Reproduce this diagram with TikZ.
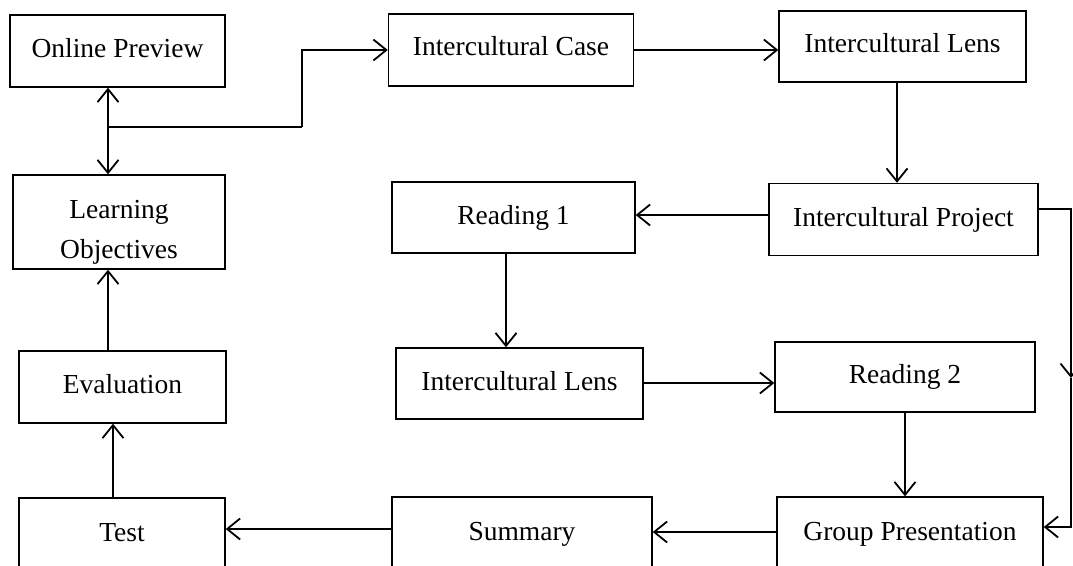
\documentclass[tikz,border=0pt]{standalone}
\usepackage{fontspec}
\setmainfont{Liberation Serif}
\usetikzlibrary{arrows.meta}
\begin{document}
\begin{tikzpicture}[x=1pt,y=-1pt,
  >={Straight Barb[length=13pt,width=21pt]},
  box/.style={draw, line width=1.4pt, inner sep=0pt,
    font=\fontsize{27.5}{33}\selectfont, text height=19pt, text depth=6pt},
  lbl/.style={inner sep=0pt, font=\fontsize{27.5}{33}\selectfont, anchor=base},
  conn/.style={line width=1.8pt, ->},
  plain/.style={line width=1.8pt}]
\useasboundingbox (0,0) rectangle (1073,565);
\clip (0,0) rectangle (1073,565);
% boxes
\node[box, minimum width=215pt, minimum height=72pt] (op) at (117.5,51) {Online Preview};
\node[box, minimum width=212pt, minimum height=94pt] (lo) at (119,222) {};
\node[lbl] (lo1) at (119,218) {Learning};
\node[lbl] (lo2) at (119,258) {Objectives};
\node[box, minimum width=207pt, minimum height=72pt] (ev) at (122.5,387) {Evaluation};
\node[box, minimum width=206pt, minimum height=73pt] (test) at (122,534.5) {Test};
\node[box, minimum width=245pt, minimum height=72pt] (ic) at (511,50) {\raisebox{1.5pt}{Intercultural Case}};
\node[box, minimum width=247pt, minimum height=71pt] (il1) at (902.5,46.5) {\raisebox{1pt}{Intercultural Lens}};
\node[box, minimum width=269pt, minimum height=72pt] (ip) at (903.5,219.5) {Intercultural Project};
\node[box, minimum width=243pt, minimum height=71pt] (r1) at (513.5,217.5) {Reading 1};
\node[box, minimum width=247pt, minimum height=71pt] (il2) at (519.5,383.5) {Intercultural Lens};
\node[box, minimum width=260pt, minimum height=70pt] (r2) at (905,377) {Reading 2};
\node[box, minimum width=266pt, minimum height=73pt] (gp) at (910,533.5) {Group Presentation};
\node[box, minimum width=260pt, minimum height=73pt] (sum) at (522,533.5) {Summary};
% helper coordinates
\coordinate (j) at (108,127);
\coordinate (k) at (302,127);
\coordinate (xa) at (897,0);
\coordinate (yb) at (0,215);
\coordinate (xc) at (506,0);
\coordinate (xd) at (905,0);
\coordinate (ra) at (1071,209);
\coordinate (rm) at (1071,378);
\coordinate (rb) at (1071,527);
\coordinate (ye) at (0,532);
\coordinate (yf) at (0,529);
\coordinate (yg) at (0,383);
\coordinate (xg) at (113,0);
\coordinate (xh) at (108,0);
% connectors
\draw[plain, <->] (op.south -| j) -- (lo.north -| j);
\draw[plain] (j) -- (k);
\draw[conn] (k) |- (ic.west);
\draw[conn] (ic.east) -- (ic.east -| il1.west);
\draw[conn] (il1.south -| xa) -- (ip.north -| xa);
\draw[conn] (ip.west |- yb) -- (r1.east |- yb);
\draw[conn] (r1.south -| xc) -- (il2.north -| xc);
\draw[conn] (il2.east |- yg) -- (r2.west |- yg);
\draw[conn] (r2.south -| xd) -- (gp.north -| xd);
\draw[conn] (ip.east |- ra) -- (ra) -- (rm);
\draw[conn] (rm) -- (rb) -- (gp.east |- rb);
\draw[conn] (gp.west |- ye) -- (sum.east |- ye);
\draw[conn] (sum.west |- yf) -- (test.east |- yf);
\draw[conn] (test.north -| xg) -- (ev.south -| xg);
\draw[conn] (ev.north -| xh) -- (lo.south -| xh);
\end{tikzpicture}
\end{document}
